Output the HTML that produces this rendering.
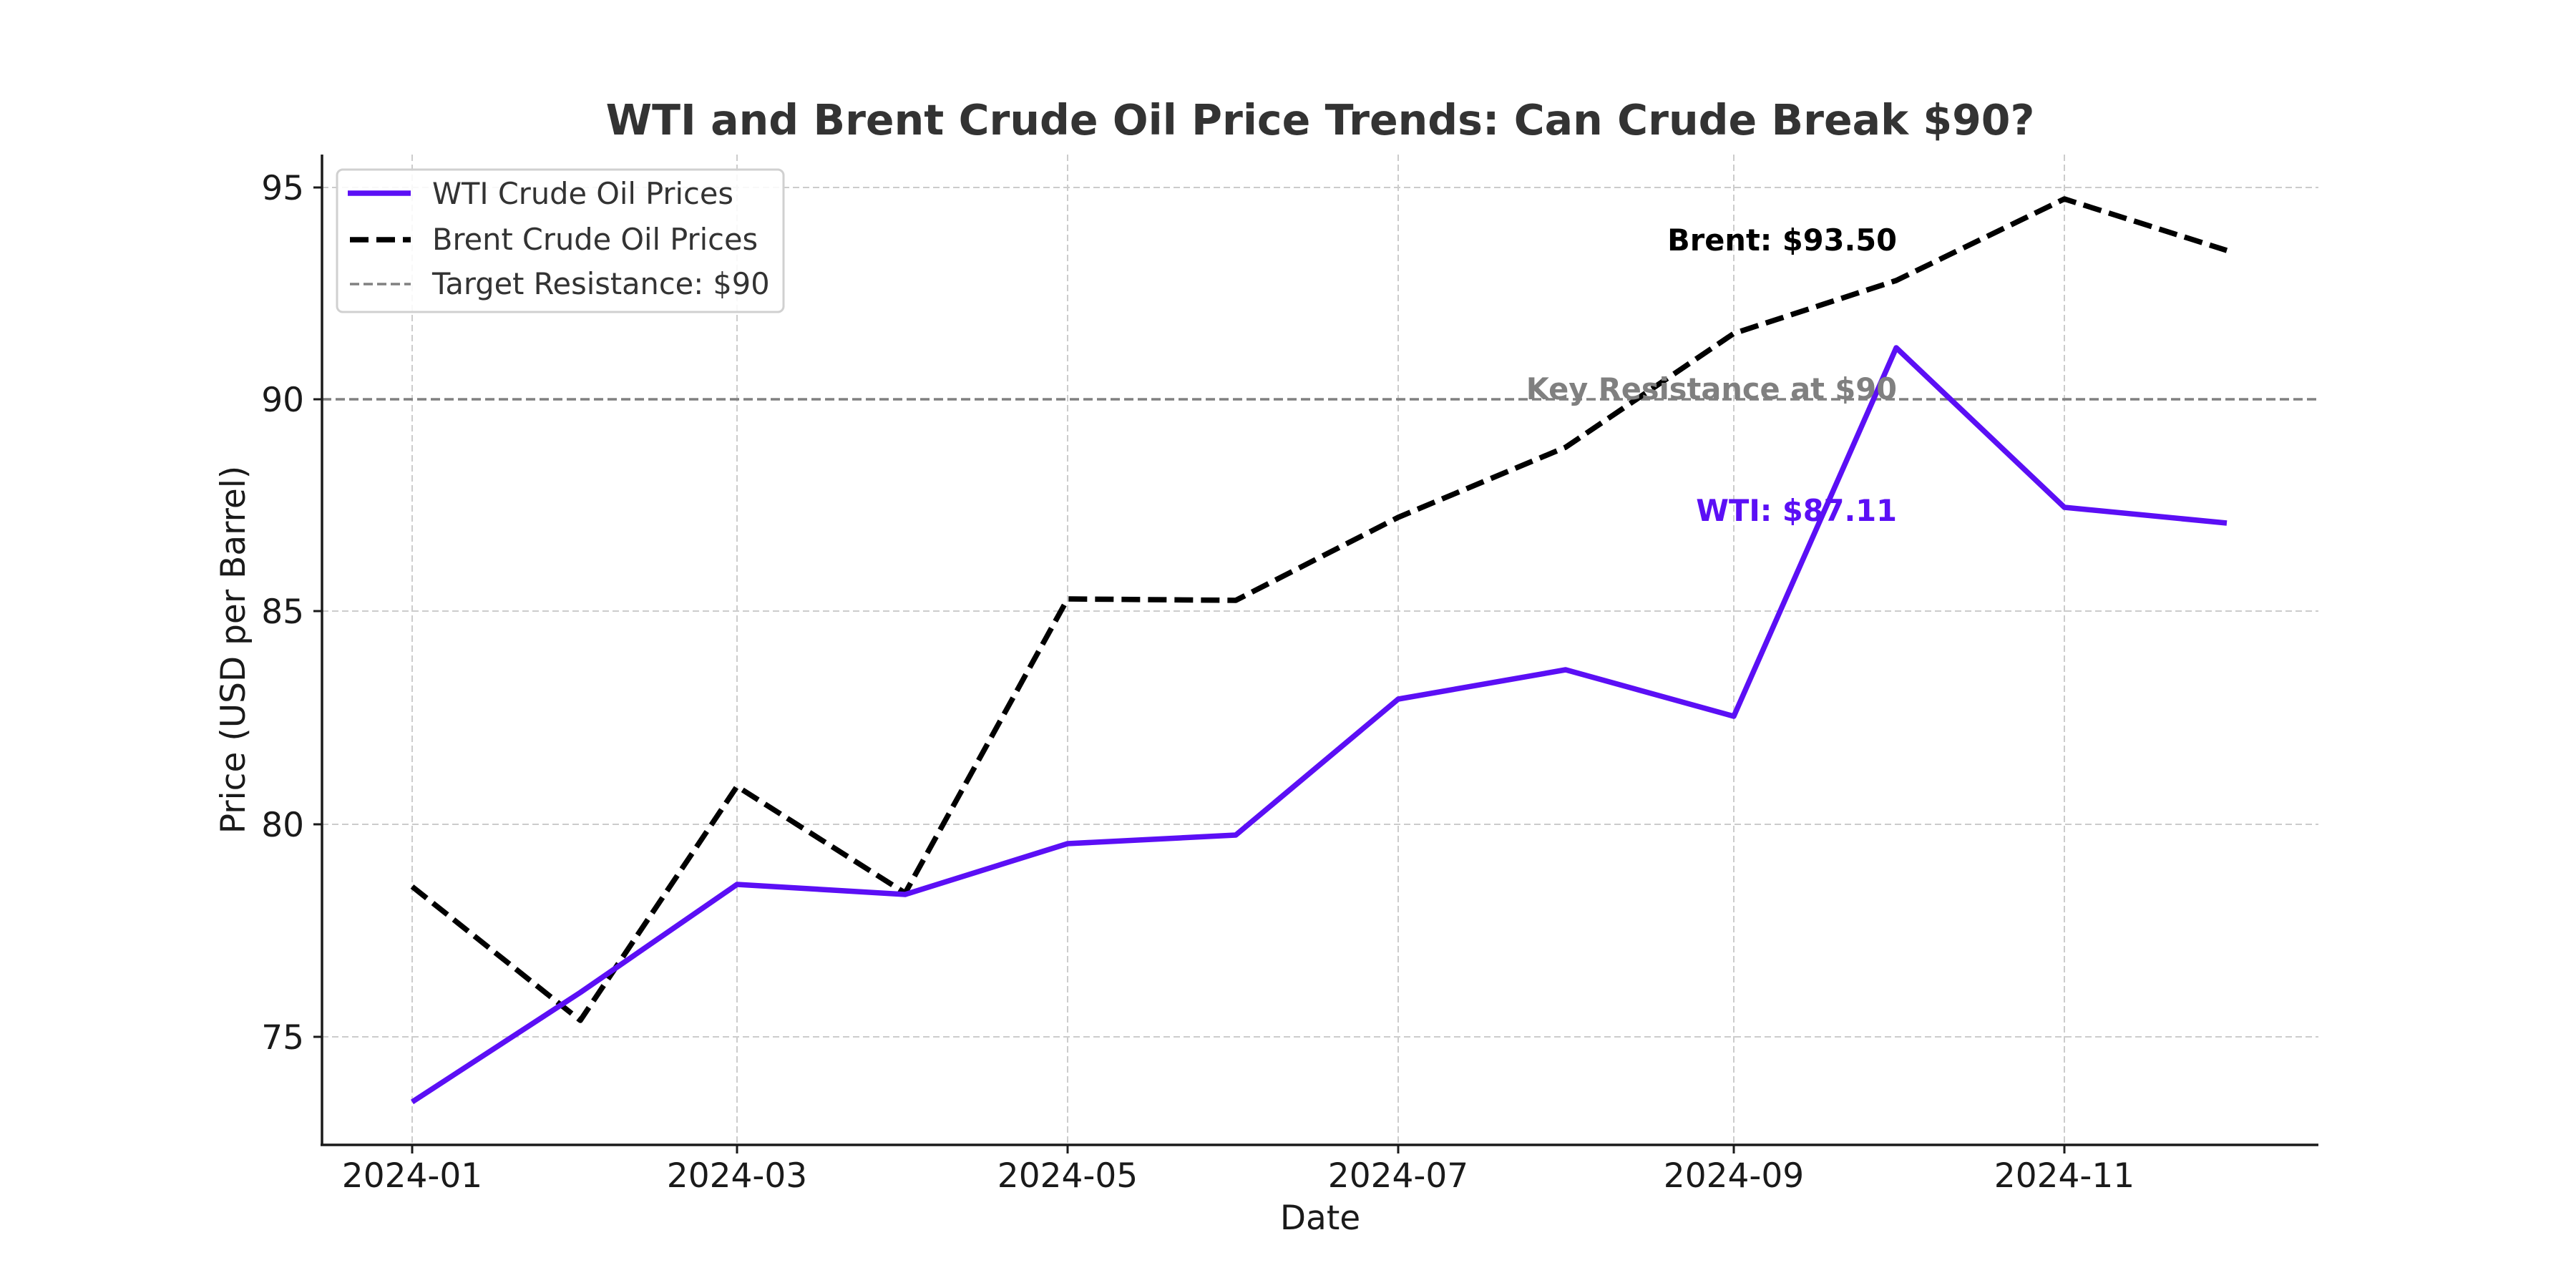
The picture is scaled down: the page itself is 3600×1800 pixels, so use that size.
<!DOCTYPE html>
<html><head><meta charset="utf-8"><style>
html,body{margin:0;padding:0;background:#fff;}
svg{display:block;font-family:"DejaVu Sans","Liberation Sans",sans-serif;}
</style></head><body>
<svg width="3600" height="1800" viewBox="0 0 3600 1800" xmlns="http://www.w3.org/2000/svg">
<rect width="3600" height="1800" fill="#fff"/>
<!-- grid -->
<g stroke="#cccccc" stroke-width="2" stroke-dasharray="9,5">
<line x1="450" y1="262" x2="3240" y2="262"/>
<line x1="450" y1="854" x2="3240" y2="854"/>
<line x1="450" y1="1152" x2="3240" y2="1152"/>
<line x1="450" y1="1449" x2="3240" y2="1449"/>
<line x1="576" y1="216" x2="576" y2="1600"/>
<line x1="1030" y1="216" x2="1030" y2="1600"/>
<line x1="1492" y1="216" x2="1492" y2="1600"/>
<line x1="1954" y1="216" x2="1954" y2="1600"/>
<line x1="2423" y1="216" x2="2423" y2="1600"/>
<line x1="2885" y1="216" x2="2885" y2="1600"/>
</g>
<!-- resistance line -->
<line x1="450" y1="558" x2="3240" y2="558" stroke="#808080" stroke-width="3.5" stroke-dasharray="13,6"/>
<!-- Brent -->
<polyline fill="none" stroke="#000" stroke-width="7.5" stroke-dasharray="26,11" stroke-linejoin="round"
points="576,1239 811,1426 1030,1099 1265,1248 1492,837 1727,839 1954,723 2188,625 2423,466 2650,392 2885,278 3112,350"/>
<!-- WTI -->
<polyline fill="none" stroke="#5b0ff5" stroke-width="7.5" stroke-linejoin="round"
points="576,1540 811,1387 1030,1236 1265,1250 1492,1179 1727,1167 1954,977 2188,936 2423,1001 2650,486 2885,709 3112,731"/>
<!-- axes -->
<line x1="450" y1="216" x2="450" y2="1601" stroke="#1a1a1a" stroke-width="3.5"/>
<line x1="448" y1="1600" x2="3240" y2="1600" stroke="#1a1a1a" stroke-width="3.5"/>
<g stroke="#1a1a1a" stroke-width="3">
<line x1="438" y1="262" x2="450" y2="262"/><line x1="438" y1="558" x2="450" y2="558"/>
<line x1="438" y1="854" x2="450" y2="854"/><line x1="438" y1="1152" x2="450" y2="1152"/>
<line x1="438" y1="1449" x2="450" y2="1449"/>
<line x1="576" y1="1600" x2="576" y2="1612"/><line x1="1030" y1="1600" x2="1030" y2="1612"/>
<line x1="1492" y1="1600" x2="1492" y2="1612"/><line x1="1954" y1="1600" x2="1954" y2="1612"/>
<line x1="2423" y1="1600" x2="2423" y2="1612"/><line x1="2885" y1="1600" x2="2885" y2="1612"/>
</g>
<g font-size="47" fill="#1a1a1a" text-anchor="end">
<text x="425" y="279">95</text><text x="425" y="575">90</text><text x="425" y="871">85</text>
<text x="425" y="1169">80</text><text x="425" y="1466">75</text>
</g>
<g font-size="47" fill="#1a1a1a" text-anchor="middle">
<text x="576" y="1659">2024-01</text><text x="1030" y="1659">2024-03</text>
<text x="1492" y="1659">2024-05</text><text x="1954" y="1659">2024-07</text>
<text x="2423" y="1659">2024-09</text><text x="2885" y="1659">2024-11</text>
<text x="1845" y="1718">Date</text>
<text transform="translate(342,908) rotate(-90)">Price (USD per Barrel)</text>
</g>
<text x="1845" y="188" font-size="58.5" font-weight="bold" fill="#333" text-anchor="middle">WTI and Brent Crude Oil Price Trends: Can Crude Break $90?</text>
<!-- annotations -->
<g font-size="41.5" font-weight="bold" text-anchor="end">
<text x="2651" y="350" fill="#000">Brent: $93.50</text>
<text x="2651" y="558" fill="#808080">Key Resistance at $90</text>
<text x="2651" y="728" fill="#5b0ff5">WTI: $87.11</text>
</g>
<!-- legend -->
<rect x="471" y="237" width="624" height="199" rx="8" fill="#fff" fill-opacity="0.85" stroke="#d0d0d0" stroke-width="3"/>
<line x1="486" y1="270" x2="574" y2="270" stroke="#5b0ff5" stroke-width="7.5"/>
<line x1="489" y1="335" x2="574" y2="335" stroke="#000" stroke-width="7.5" stroke-dasharray="26,11"/>
<line x1="489" y1="397" x2="574" y2="397" stroke="#808080" stroke-width="3.5" stroke-dasharray="13,6"/>
<g font-size="41.5" fill="#333">
<text x="604" y="285">WTI Crude Oil Prices</text>
<text x="604" y="349">Brent Crude Oil Prices</text>
<text x="604" y="411">Target Resistance: $90</text>
</g>
</svg>
</body></html>
